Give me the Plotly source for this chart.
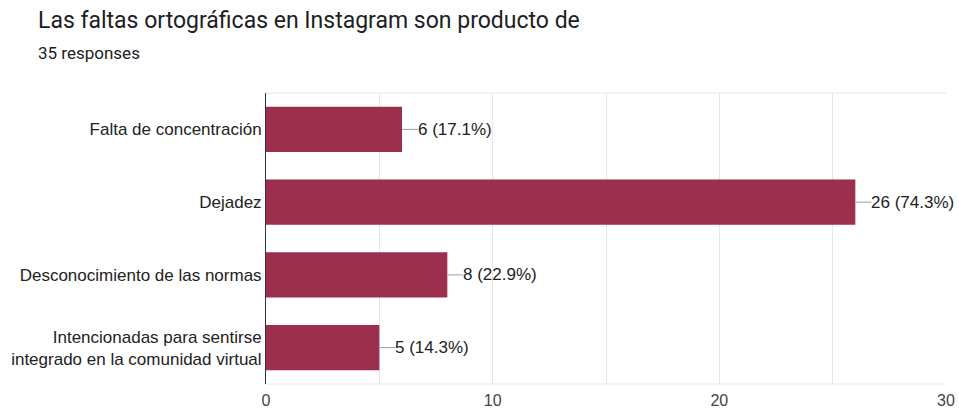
import plotly.graph_objects as go

categories = ["Falta de concentración", "Dejadez", "Desconocimiento de las normas",
              "Intencionadas para sentirse<br>integrado en la comunidad virtual"]
counts = [6, 26, 8, 5]
total = 35
labels = [f"{c} ({c/total*100:.1f}%)" for c in counts]
tick_vals = [0, 5, 10, 15, 20, 25, 30]
tick_text = ["0", "", "10", "", "20", "", "30"]

color = "#9c2f4e"
lab_font = "Liberation Sans, Arial, sans-serif"
fig = go.Figure(go.Bar(
    x=counts, y=categories, orientation="h",
    marker=dict(color=color, line=dict(width=0)),
    hoverinfo="skip",
))

shapes = []
annotations = []
for c, cat, lab in zip(counts, categories, labels):
    shapes.append(dict(type="line", xref="x", yref="y", xsizemode="pixel", xanchor=c,
                       x0=0, x1=16, y0=cat, y1=cat, line=dict(color="#9e9e9e", width=1)))
    annotations.append(dict(x=c, y=cat, xref="x", yref="y", text=lab, showarrow=False,
                            xanchor="left", xshift=14, font=dict(size=17, color="#222222",
                            family=lab_font)))
for yv in [0, 1]:
    shapes.append(dict(type="line", xref="paper", yref="paper", x0=0, x1=1, y0=yv, y1=yv,
                       line=dict(color="#e6e6e6", width=1), layer="below"))

fig.update_layout(
    width=959, height=409,
    margin=dict(l=266, r=13, t=93, b=25),
    paper_bgcolor="white", plot_bgcolor="white",
    bargap=0.38,
    showlegend=False,
    font=dict(family=lab_font, size=16, color="#222222"),
    shapes=shapes,
    annotations=annotations,
)
fig.add_annotation(x=-266/680 + 36/680, y=1 + (93-20)/291, xref="paper", yref="paper",
                   text="Las faltas ortográficas en Instagram son producto de",
                   showarrow=False, xanchor="left", yanchor="middle",
                   font=dict(size=23, color="#202124", family="Roboto, sans-serif"))
fig.add_annotation(x=-266/680 + 36/680, y=1 + (93-53)/291, xref="paper", yref="paper",
                   text="35 responses", showarrow=False, xanchor="left", yanchor="middle",
                   font=dict(size=17, color="#202124", family="Roboto, sans-serif"))
fig.update_xaxes(range=[0, 30], tickvals=tick_vals, ticktext=tick_text,
                 showgrid=True, gridcolor="#e6e6e6", gridwidth=1, zeroline=False,
                 showline=False, ticks="", tickfont=dict(size=16, color="#444444", family=lab_font),
                 ticklabelstandoff=5, automargin=False, fixedrange=True)
fig.update_yaxes(autorange="reversed", showgrid=False, zeroline=False,
                 showline=True, linecolor="#333333", linewidth=1, ticks="",
                 ticklabelstandoff=0, tickfont=dict(size=17, color="#222222", family=lab_font),
                 automargin=False, fixedrange=True)
fig.write_html("out.html", config={"displayModeBar": False})
